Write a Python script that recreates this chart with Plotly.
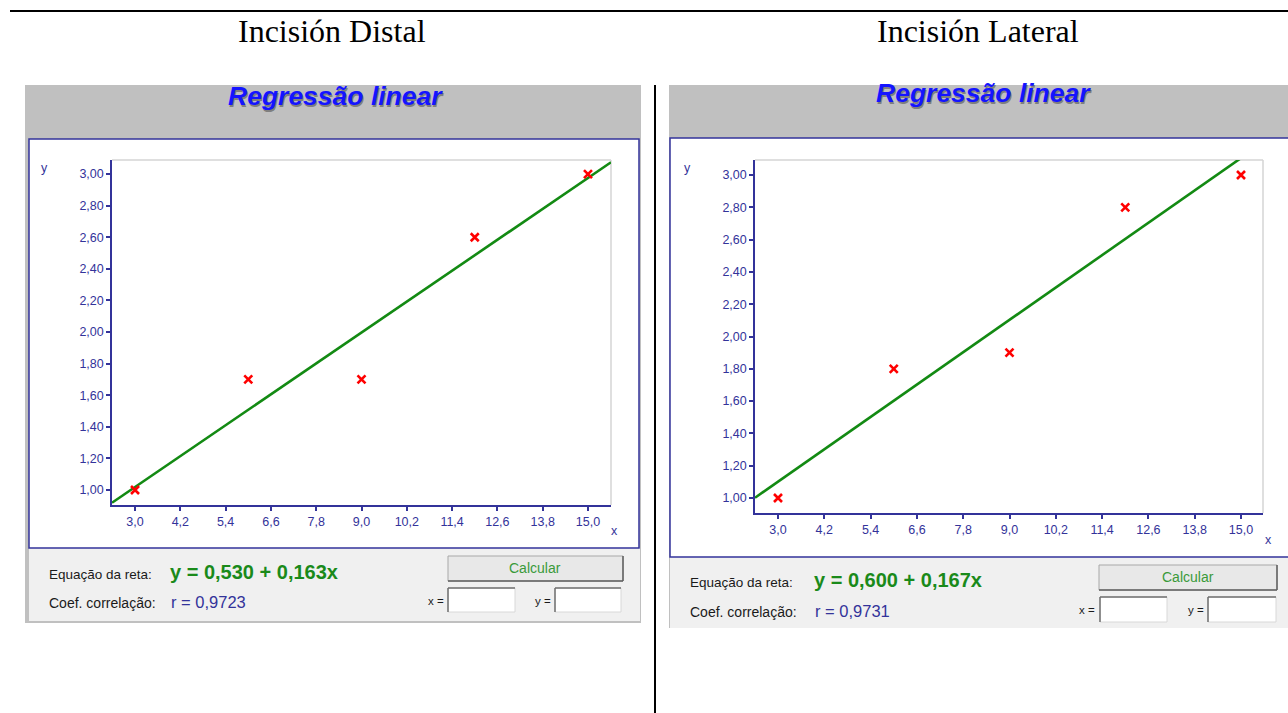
import plotly.graph_objects as go

W, H = 1288, 713

# ---------------- data ----------------
panel_titles = ["Incisión Distal", "Incisión Lateral"]
x_values = [3.0, 6.0, 9.0, 12.0, 15.0]
y_distal = [1.0, 1.7, 1.7, 2.6, 3.0]
y_lateral = [1.0, 1.8, 1.9, 2.8, 3.0]
intercepts = [0.530, 0.600]
slopes = [0.163, 0.167]
r_values = [0.9723, 0.9731]

x_ticks = [3.0, 4.2, 5.4, 6.6, 7.8, 9.0, 10.2, 11.4, 12.6, 13.8, 15.0]
x_tick_labels = ["3,0", "4,2", "5,4", "6,6", "7,8", "9,0", "10,2", "11,4", "12,6", "13,8", "15,0"]
y_ticks = [1.0, 1.2, 1.4, 1.6, 1.8, 2.0, 2.2, 2.4, 2.6, 2.8, 3.0]
y_tick_labels = ["1,00", "1,20", "1,40", "1,60", "1,80", "2,00", "2,20", "2,40", "2,60", "2,80", "3,00"]

x_ranges = [[2.39, 15.61], [2.404, 15.57]]
y_ranges = [[0.905, 3.089], [0.907, 3.093]]


def X(p):
    return p / W


def Y(p):
    return 1 - p / H


NAVY = "#33339A"
SANS = "Liberation Sans, Arial, sans-serif"

fig = go.Figure()

series = [y_distal, y_lateral]
for i in range(2):
    xa = "x" if i == 0 else "x2"
    ya = "y" if i == 0 else "y2"
    b, m = intercepts[i], slopes[i]
    lx = x_ranges[i]
    fig.add_trace(go.Scatter(
        x=lx, y=[b + m * v for v in lx], mode="lines",
        line=dict(color="#138A13", width=2.6), xaxis=xa, yaxis=ya,
        showlegend=False, hoverinfo="skip"))
    fig.add_trace(go.Scatter(
        x=x_values, y=series[i], mode="markers",
        marker=dict(symbol="x-thin", size=8, color="#FF0000",
                    line=dict(color="#FF0000", width=2.6)),
        xaxis=xa, yaxis=ya, showlegend=False, cliponaxis=False))

axis_common = dict(
    showgrid=False, zeroline=False, showline=True, linecolor=NAVY, linewidth=1.5,
    ticks="outside", ticklen=4, tickwidth=1.5, tickcolor=NAVY,
    tickfont=dict(family=SANS, size=12.5, color=NAVY), fixedrange=True)

domains = [
    dict(x=[X(112), X(611)], y=[Y(505), Y(160)]),
    dict(x=[X(755), X(1263)], y=[Y(513), Y(160)]),
]

layout_axes = {}
for i in range(2):
    sx = "xaxis" if i == 0 else "xaxis2"
    sy = "yaxis" if i == 0 else "yaxis2"
    layout_axes[sx] = dict(axis_common, domain=domains[i]["x"], range=x_ranges[i],
                           tickvals=x_ticks, ticktext=x_tick_labels,
                           anchor="y" if i == 0 else "y2")
    layout_axes[sy] = dict(axis_common, domain=domains[i]["y"], range=y_ranges[i],
                           tickvals=y_ticks, ticktext=y_tick_labels,
                           anchor="x" if i == 0 else "x2")

shapes = []


def rect(x0, y0, x1, y1, fill, line_color=None, lw=0):
    shapes.append(dict(type="rect", xref="paper", yref="paper", layer="below",
                       x0=X(x0), x1=X(x1), y0=Y(y1), y1=Y(y0), fillcolor=fill,
                       line=dict(color=line_color or fill, width=lw)))


def seg(x0, y0, x1, y1, color, lw):
    shapes.append(dict(type="line", xref="paper", yref="paper", layer="below",
                       x0=X(x0), x1=X(x1), y0=Y(y0), y1=Y(y1),
                       line=dict(color=color, width=lw)))


# page lines
seg(10, 11, 1288, 11, "#000000", 2.2)
seg(655, 85, 655, 713, "#000000", 2)

# left panel
rect(25, 85, 641, 623, "#C0C0C0")
rect(29, 548, 640, 621, "#F0F0F0")
rect(29, 139, 639, 548, "#FFFFFF", NAVY, 1.5)
seg(112, 160, 611, 160, "#D4D4D4", 1.5)
seg(611, 160, 611, 505, "#D4D4D4", 1.5)

# right panel
rect(669, 85, 1288, 628, "#C0C0C0")
rect(670, 557, 1288, 628, "#F0F0F0")
rect(670, 138, 1300, 557, "#FFFFFF", NAVY, 1.5)
seg(755, 160, 1263, 160, "#D4D4D4", 1.5)
seg(1263, 160, 1263, 513, "#D4D4D4", 1.5)


def button(x0, y0, x1, y1):
    rect(x0, y0, x1, y1, "#E8E8E8", "#A8A8A8", 1)
    seg(x0, y1, x1, y1, "#606060", 1.5)
    seg(x1, y0, x1, y1, "#606060", 1.5)


def inbox(x0, y0, x1, y1):
    rect(x0, y0, x1, y1, "#FFFFFF", "#D8D8D8", 1)
    seg(x0, y0, x1, y0, "#707070", 1.5)
    seg(x0, y0, x0, y1, "#707070", 1.5)


button(448, 556, 623, 581)
inbox(448, 588, 515, 612)
inbox(555, 588, 621, 612)
button(1099, 565, 1277, 590)
inbox(1100, 597, 1167, 622)
inbox(1208, 597, 1276, 622)

annotations = []


def text(s, x, y, size, color, family=SANS, xanchor="center", yanchor="middle"):
    annotations.append(dict(text=s, x=X(x), y=Y(y), xref="paper", yref="paper",
                            showarrow=False, xanchor=xanchor, yanchor=yanchor,
                            font=dict(family=family, size=size, color=color)))


def fmt(v, d):
    return f"{v:.{d}f}".replace(".", ",")


SERIF = "Liberation Serif, Times New Roman, serif"
text(panel_titles[0], 332, 31, 32, "#000000", SERIF)
text(panel_titles[1], 978, 31, 32, "#000000", SERIF)

title_pos = [(335, 96), (983, 93)]
for (tx, ty) in title_pos:
    text("<b><i>Regressão linear</i></b>", tx + 1.5, ty + 1.5, 26.5, "rgba(70,70,70,0.55)")
    text("<b><i>Regressão linear</i></b>", tx, ty, 26.5, "#1414FF")

axis_letters = [((45, 168), (614, 531)), ((687, 168), (1268, 540))]
for (yl, xl) in axis_letters:
    text("y", yl[0], yl[1], 12.5, NAVY)
    text("x", xl[0], xl[1], 12.5, NAVY)

bottom = [
    dict(eq=(47, 574), eqv=(168, 572), co=(47, 603), r=(169, 602), calc=(535, 568),
         xl=(446, 601), yl=(553, 601)),
    dict(eq=(688, 582), eqv=(812, 580), co=(688, 612), r=(813, 611), calc=(1188, 577),
         xl=(1097, 610), yl=(1206, 610)),
]
for i, p in enumerate(bottom):
    text("Equação da reta:", p["eq"][0], p["eq"][1], 13.5, "#1A1A1A", xanchor="left")
    text(f"<b>y = {fmt(intercepts[i], 3)} + {fmt(slopes[i], 3)}x</b>",
         p["eqv"][0], p["eqv"][1], 20, "#1A8A1A", xanchor="left")
    text("Coef. correlação:", p["co"][0], p["co"][1], 14, "#1A1A1A", xanchor="left")
    text(f"r = {fmt(r_values[i], 4)}", p["r"][0], p["r"][1], 16.5, NAVY, xanchor="left")
    text("Calcular", p["calc"][0], p["calc"][1], 14, "#3A9A3A")
    text("x =", p["xl"][0], p["xl"][1], 11.5, "#1A1A1A", xanchor="right")
    text("y =", p["yl"][0], p["yl"][1], 11.5, "#1A1A1A", xanchor="right")

fig.update_layout(
    width=W, height=H, autosize=False,
    margin=dict(l=0, r=0, t=0, b=0, pad=0),
    paper_bgcolor="#FFFFFF", plot_bgcolor="rgba(0,0,0,0)",
    shapes=shapes, annotations=annotations, showlegend=False,
    **layout_axes)

fig.write_html("out.html", config={"displayModeBar": False},
               post_script="document.body.style.margin='0';"
                           "document.body.style.overflow='hidden';")
